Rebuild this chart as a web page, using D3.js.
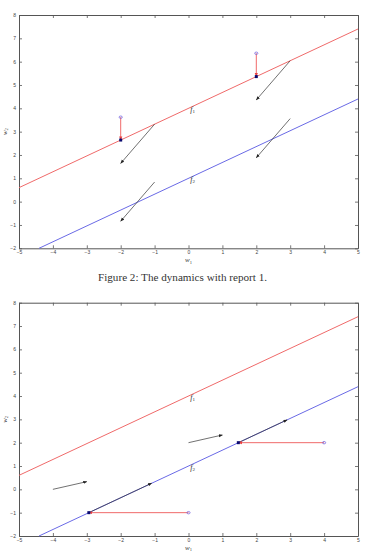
<!DOCTYPE html>
<html>
<head>
<meta charset="utf-8">
<script src="https://cdn.jsdelivr.net/npm/d3@7"></script>
<style>
  body { margin: 0; background: #fff; }
  .tick text { font-family: "Liberation Sans", Arial, sans-serif; font-size: 5px; fill: #444; }
</style>
</head>
<body>
<div id="chart"></div>
<script>
// axis ticks
var xTicks = [-5, -4, -3, -2, -1, 0, 1, 2, 3, 4, 5];
var yTicks = [-2, -1, 0, 1, 2, 3, 4, 5, 6, 7, 8];

// the two lines f1 and f2 (endpoints inside the box)
var lineF1 = [[-5, 0.6], [5, 7.4]];
var lineF2 = [[-4.41, -2], [5, 4.4]];

// figure 2: reports projected down onto f1, then the update arrows
var proj1 = [
  { from: [-2, 3.62], to: [-2, 2.64] },
  { from: [2, 6.36], to: [2, 5.36] }
];
var arrows1 = [
  { from: [-1, 3.32], to: [-2, 1.64] },
  { from: [3, 6.04], to: [2, 4.36] },
  { from: [3, 3.56], to: [2, 1.88] },
  { from: [-1, 0.84], to: [-2, -0.84] }
];

// second panel: projections onto f2 and the arrows
var proj2 = [
  { from: [0, -1], to: [-2.94, -1] },
  { from: [4, 2], to: [1.47, 2] }
];
var arrows2 = [
  { from: [-2.94, -1], to: [-1.09, 0.26] },
  { from: [1.47, 2], to: [2.91, 2.98] },
  { from: [-4, 0], to: [-3, 0.33] },
  { from: [0, 2], to: [1, 2.33] }
];

var width = 365, height = 556;
var svg = d3.select("#chart").append("svg")
  .attr("width", width)
  .attr("height", height);

var defs = svg.append("defs");
function marker(id, color, size) {
  defs.append("marker")
    .attr("id", id)
    .attr("viewBox", "0 -5 10 10")
    .attr("refX", 9)
    .attr("refY", 0)
    .attr("markerUnits", "userSpaceOnUse")
    .attr("markerWidth", size)
    .attr("markerHeight", size)
    .attr("orient", "auto")
    .append("path")
    .attr("d", "M0,-4L10,0L0,4Z")
    .attr("fill", color);
}
marker("headBlack", "#222", 4);
marker("headRed", "#e84040", 4);

var red = "#f06a6a", blue = "#6a6ae6";
var fmt = function (d) { return d < 0 ? "\u2212" + (-d) : d; };

function drawPanel(top, bottom, proj, arrows) {
  var x = d3.scaleLinear().domain([-5, 5]).range([19, 358]);
  var y = d3.scaleLinear().domain([-2, 8]).range([bottom, top]);
  var g = svg.append("g");

  // box + inward ticks on every side
  g.append("g")
    .attr("transform", "translate(0," + bottom + ")")
    .call(d3.axisBottom(x).tickValues(xTicks).tickSizeInner(-3).tickSizeOuter(0).tickPadding(2).tickFormat(fmt));
  g.append("g")
    .attr("transform", "translate(0," + top + ")")
    .call(d3.axisTop(x).tickValues(xTicks).tickSizeInner(-3).tickSizeOuter(0).tickFormat(""));
  g.append("g")
    .attr("transform", "translate(19,0)")
    .call(d3.axisLeft(y).tickValues(yTicks).tickSizeInner(-3).tickSizeOuter(0).tickPadding(3).tickFormat(fmt));
  g.append("g")
    .attr("transform", "translate(358,0)")
    .call(d3.axisRight(y).tickValues(yTicks).tickSizeInner(-3).tickSizeOuter(0).tickFormat(""));
  g.selectAll(".domain").attr("stroke", "#555").attr("stroke-width", 1);
  g.selectAll(".tick line").attr("stroke", "#555").attr("stroke-width", 0.8);

  var line = d3.line().x(function (d) { return x(d[0]); }).y(function (d) { return y(d[1]); });
  g.append("path").attr("d", line(lineF1)).attr("fill", "none").attr("stroke", red).attr("stroke-width", 1);
  g.append("path").attr("d", line(lineF2)).attr("fill", "none").attr("stroke", blue).attr("stroke-width", 1);

  // labels on the lines
  [["1", 4], ["2", 1]].forEach(function (l) {
    var t = g.append("text")
      .attr("x", x(0.05)).attr("y", y(l[1]) + 3.5)
      .attr("font-family", "Liberation Serif, serif")
      .attr("font-style", "italic")
      .attr("font-size", 8)
      .attr("fill", "#333");
    t.append("tspan").text("f");
    t.append("tspan").attr("font-size", 5).attr("font-style", "normal").attr("dy", 1.5).text(l[0]);
  });

  // black arrows
  g.selectAll(".arrow").data(arrows).enter().append("line")
    .attr("x1", function (d) { return x(d.from[0]); })
    .attr("y1", function (d) { return y(d.from[1]); })
    .attr("x2", function (d) { return x(d.to[0]); })
    .attr("y2", function (d) { return y(d.to[1]); })
    .attr("stroke", "#333")
    .attr("stroke-width", 0.7)
    .attr("marker-end", "url(#headBlack)");

  // red projection arrows
  g.selectAll(".proj").data(proj).enter().append("line")
    .attr("x1", function (d) { return x(d.from[0]); })
    .attr("y1", function (d) { return y(d.from[1]); })
    .attr("x2", function (d) { return x(d.to[0]); })
    .attr("y2", function (d) { return y(d.to[1]); })
    .attr("stroke", red)
    .attr("stroke-width", 1)
    .attr("marker-end", "url(#headRed)");

  // open circles at the reports
  g.selectAll(".rep").data(proj).enter().append("ellipse")
    .attr("cx", function (d) { return x(d.from[0]); })
    .attr("cy", function (d) { return y(d.from[1]); })
    .attr("rx", 1.6).attr("ry", 1.2)
    .attr("fill", "none")
    .attr("stroke", "#7a6ae0")
    .attr("stroke-width", 0.8);

  // filled points on the line
  g.selectAll(".pt").data(proj).enter().append("rect")
    .attr("x", function (d) { return x(d.to[0]) - 1.5; })
    .attr("y", function (d) { return y(d.to[1]) - 1.5; })
    .attr("width", 3).attr("height", 3)
    .attr("fill", "#0a0a70");

  // axis labels
  var xl = g.append("text")
    .attr("x", x(0)).attr("y", bottom + 14)
    .attr("text-anchor", "middle")
    .attr("font-family", "Liberation Serif, serif")
    .attr("font-style", "italic")
    .attr("font-size", 7)
    .attr("fill", "#333");
  xl.append("tspan").text("w");
  xl.append("tspan").attr("font-size", 4.5).attr("font-style", "normal").attr("dy", 1.2).text("1");

  var yl = g.append("text")
    .attr("transform", "translate(7," + ((top + bottom) / 2) + ") rotate(-90)")
    .attr("text-anchor", "middle")
    .attr("font-family", "Liberation Serif, serif")
    .attr("font-style", "italic")
    .attr("font-size", 7)
    .attr("fill", "#333");
  yl.append("tspan").text("w");
  yl.append("tspan").attr("font-size", 4.5).attr("font-style", "normal").attr("dy", 1.2).text("2");
}

drawPanel(15, 248.3, proj1, arrows1);
drawPanel(302.7, 536, proj2, arrows2);

svg.append("text")
  .attr("x", 98).attr("y", 280.5)
  .attr("font-family", "Liberation Serif, serif")
  .attr("font-size", 10.5)
  .attr("textLength", 169)
  .attr("lengthAdjust", "spacingAndGlyphs")
  .attr("fill", "#333")
  .text("Figure 2: The dynamics with report 1.");
</script>
</body>
</html>
